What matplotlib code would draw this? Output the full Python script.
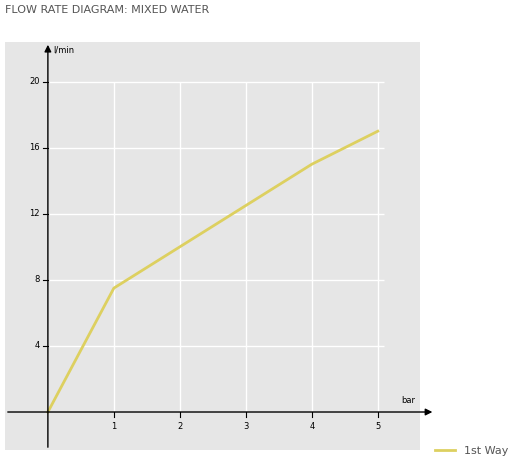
import matplotlib.pyplot as plt

pressure = [0, 1, 2, 3, 4, 5]
flow = [0, 7.5, 10, 12.5, 15, 17]
x_ticks = [1, 2, 3, 4, 5]
y_ticks = [4, 8, 12, 16, 20]

W, H = 508, 463
fig = plt.figure(figsize=(W / 100, H / 100), dpi=100)
ax = fig.add_axes([5 / W, 1 - 450 / H, 415 / W, 408 / H])
ax.set_facecolor('#e6e6e6')
ax.set_xlim(-0.65, 5.64)
ax.set_ylim(-2.3, 22.4)
for s in ax.spines.values():
    s.set_visible(False)
ax.set_xticks([])
ax.set_yticks([])

# grid
ax.vlines(x_ticks, 0, 20, color='white', lw=1)
ax.hlines(y_ticks, 0, 5.1, color='white', lw=1)

# axes with arrows
ax.annotate('', xy=(5.87, 0), xytext=(-0.65, 0), annotation_clip=False,
            arrowprops=dict(arrowstyle='-|>', color='black', lw=1, mutation_scale=10))
ax.annotate('', xy=(0, 22.4), xytext=(0, -2.3), annotation_clip=False,
            arrowprops=dict(arrowstyle='-|>', color='black', lw=1, mutation_scale=10))
for t in x_ticks:
    ax.plot([t, t], [0, -0.3], color='black', lw=0.8)
    ax.text(t, -0.6, str(t), ha='center', va='top', fontsize=6)
for t in y_ticks:
    ax.plot([0, -0.07], [t, t], color='black', lw=0.8)
    ax.text(-0.12, t, str(t), ha='right', va='center', fontsize=6)
ax.text(0.08, 21.9, 'l/min', fontsize=6, va='center')
ax.text(5.35, 0.7, 'bar', fontsize=6, va='center')

ax.plot(pressure, flow, color='#ddd060', lw=2, label='1st Way')
fig.legend(*ax.get_legend_handles_labels(), loc='center left',
           bbox_to_anchor=(425 / W, 1 - 451 / H), frameon=False,
           fontsize=8, handlelength=1.8, labelcolor='#555555')

fig.text(5 / W, 1 - 10 / H, 'FLOW RATE DIAGRAM: MIXED WATER', fontsize=8,
         color='#555555', va='center')
fig.savefig('out.png', dpi=100)
